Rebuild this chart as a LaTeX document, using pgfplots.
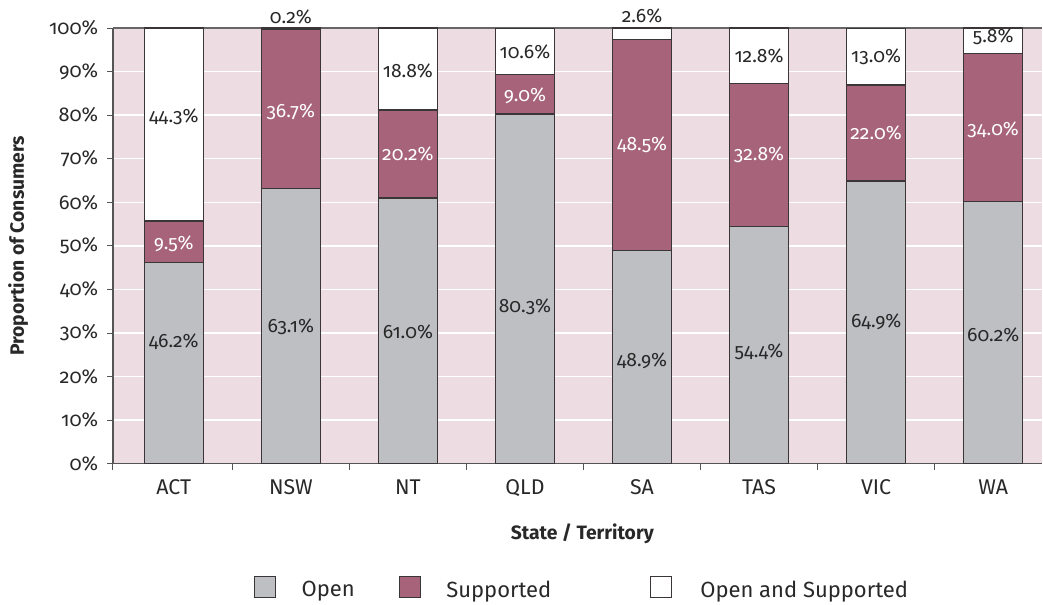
\documentclass[border=0pt]{standalone}
\usepackage{fontspec}
\setmainfont{Fira Sans}[Numbers=OldStyle]
\usepackage{pgfplots}
\pgfplotsset{compat=1.18}

\definecolor{bgpink}{RGB}{237,221,227}
\definecolor{suppurple}{RGB}{166,99,122}
\definecolor{opengray}{RGB}{190,191,195}
\definecolor{baredge}{RGB}{58,54,56}
\definecolor{textdark}{RGB}{40,40,40}
\definecolor{axisgray}{RGB}{85,85,85}

\pgfplotsset{
  common/.style={
    width=697.5pt, height=327pt, scale only axis,
    xmin=-0.52, xmax=7.42, ymin=0, ymax=100,
  },
  /pgf/number format/assume math mode=true,
}

\begin{document}
\begin{tikzpicture}
\begin{axis}[common, name=ax,
  ybar stacked, bar width=0.504,
  axis background/.style={fill=bgpink},
  axis x line*=bottom, axis y line*=left,
  axis line style={axisgray, line width=0.9pt},
  tick align=outside,
  tick style={axisgray, line width=0.7pt},
  major tick length=4.5pt, minor tick length=4.5pt,
  xtick={0,...,7},
  xticklabels={ACT,NSW,NT,QLD,SA,TAS,VIC,WA},
  every major x tick/.append style={draw=none},
  minor xtick={-0.52,0.5,1.5,2.5,3.5,4.5,5.5,6.5},
  ytick={0,10,...,100},
  yticklabel={\pgfmathprintnumber{\tick}\%},
  ymajorgrids, major grid style={white, line width=1pt},
  xticklabel style={font=\fontsize{16}{18}\selectfont, text=textdark, yshift=-4pt},
  yticklabel style={font=\fontsize{15}{17}\selectfont, text=textdark, xshift=-3pt},
  xlabel={State / Territory},
  ylabel={Proportion of Consumers},
  xlabel style={at={(axis description cs:0.505,-0.16)}, anchor=center,
    font=\bfseries\fontsize{14.5}{16}\selectfont, text=textdark},
  ylabel style={at={(axis description cs:-0.102,0.5)}, anchor=center,
    font=\bfseries\fontsize{14.5}{16}\selectfont, text=textdark},
  every axis plot/.append style={draw=baredge, line width=1.1pt},
  legend style={at={(0.505,-0.287)}, anchor=center, draw=none, fill=none,
    legend columns=3, font=\fontsize{16.5}{18}\selectfont, text=textdark,
    /tikz/column 1/.style={column sep=17pt},
    /tikz/column 2/.style={column sep=31pt},
    /tikz/column 3/.style={column sep=17pt},
    /tikz/column 4/.style={column sep=72pt},
    /tikz/column 5/.style={column sep=19pt}},
  legend image code/.code={\draw[#1, line width=0.8pt] (0pt,-5.8pt) rectangle (16pt,10.2pt);},
]
% Open
\addplot[fill=opengray] coordinates {(0,46.2)(1,63.1)(2,61.0)(3,80.3)(4,48.9)(5,54.4)(6,64.9)(7,60.2)};
\addlegendentry{Open}
% Supported
\addplot[fill=suppurple] coordinates {(0,9.5)(1,36.7)(2,20.2)(3,9.0)(4,48.5)(5,32.8)(6,22.0)(7,34.0)};
\addlegendentry{Supported}
% Open and Supported
\addplot[fill=white] coordinates {(0,44.3)(1,0.2)(2,18.8)(3,10.6)(4,2.6)(5,12.8)(6,13.0)(7,5.8)};
\addlegendentry{Open and Supported}
\draw[gray!80!black, line width=0.8pt] (rel axis cs:0,1) -- (rel axis cs:1,1);
\end{axis}

% value labels
\begin{axis}[common, hide axis, clip=false,
  point meta=explicit,
  nodes near coords={\pgfmathprintnumber[fixed,precision=1,fixed zerofill]{\pgfplotspointmeta}\%},
  nodes near coords align={center},
]
\addplot[draw=none, mark=none,
  every node near coord/.append style={text=textdark, font=\fontsize{14.5}{16}\selectfont}]
  table[x=x, y=y, meta=v] {
x y v
0 28.0 46.2
1 31.4 63.1
2 30.3 61.0
3 36.1 80.3
4 23.7 48.9
5 25.8 54.4
6 32.6 64.9
7 29.6 60.2
};
\addplot[draw=none, mark=none,
  every node near coord/.append style={text=white, font=\fontsize{14.5}{16}\selectfont}]
  table[x=x, y=y, meta=v] {
x y v
0 50.5 9.5
1 80.7 36.7
2 71.1 20.2
3 84.4 9.0
4 73.2 48.5
5 70.8 32.8
6 75.9 22.0
7 76.6 34.0
};
\addplot[draw=none, mark=none,
  every node near coord/.append style={text=textdark, font=\fontsize{14.5}{16}\selectfont}]
  table[x=x, y=y, meta=v] {
x y v
0 79.6 44.3
1 102.6 0.2
2 90.1 18.8
3 94.5 10.6
4 102.8 2.6
5 93.6 12.8
6 93.3 13.0
7 98.0 5.8
};
\end{axis}
\path ([xshift=-84.75pt,yshift=-104.25pt]ax.south west) rectangle ([yshift=21pt]ax.north east);
\end{tikzpicture}
\end{document}
